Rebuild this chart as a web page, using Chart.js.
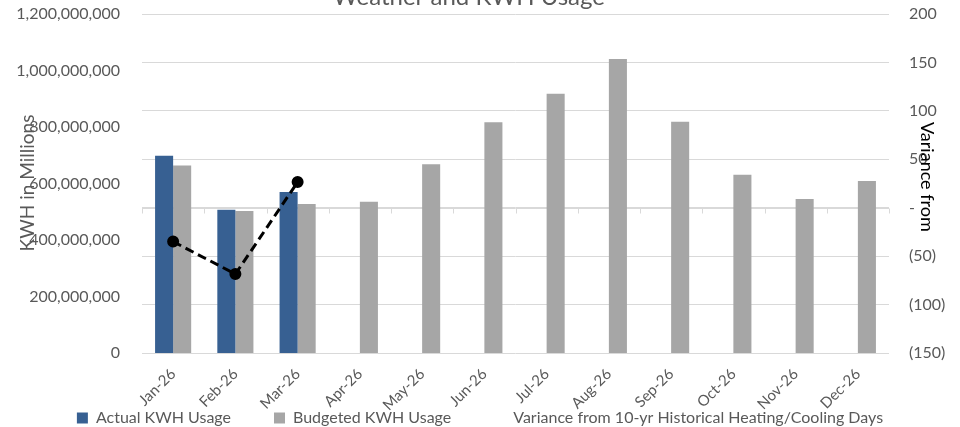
<!DOCTYPE html>
<html><head><meta charset="utf-8">
<script src="https://cdn.jsdelivr.net/npm/chart.js@4.4.1/dist/chart.umd.min.js"></script>
<style>html,body{margin:0;padding:0;background:#fff}#wrap{width:960px;height:427px;position:relative}</style>
</head><body><div id="wrap"><canvas id="c"></canvas></div>
<script>
const months = ['Jan-26','Feb-26','Mar-26','Apr-26','May-26','Jun-26','Jul-26','Aug-26','Sep-26','Oct-26','Nov-26','Dec-26'];
const actualKwh = [698e6, 507e6, 570e6, null, null, null, null, null, null, null, null, null];
const budgetKwh = [664e6, 503e6, 527e6, 535e6, 668e6, 817e6, 918e6, 1041e6, 819e6, 631e6, 545e6, 609e6];
const varianceDays = [-35, -68.5, 26.5, null, null, null, null, null, null, null, null, null];
const kwhAxis = {min: 0, max: 1200000000, step: 200000000};
const varAxis = {min: -150, max: 200, step: 50};
const chartTitle = 'Weather and KWH Usage';
const leftTitle = 'KWH in Millions';
const rightTitle = 'Variance from';
const seriesNames = ['Actual KWH Usage', 'Budgeted KWH Usage', 'Variance from 10-yr Historical Heating/Cooling Days'];

const FONT = 'Lato';
const GREY = '#595959';
const GRID = '#d9d9d9';
const XFONT = 15;
const XLINE = XFONT * 1.2;
const XSHIFT = XLINE * Math.SQRT1_2;

const textPlugin = {
  id: 'texts',
  afterDraw(chart) {
    const ctx = chart.ctx;
    ctx.save();
    ctx.fillStyle = GREY;
    ctx.font = '24px ' + FONT;
    ctx.textAlign = 'center';
    ctx.textBaseline = 'alphabetic';
    ctx.fillText(chartTitle, 469, 5);
    ctx.restore();
    ctx.save();
    ctx.fillStyle = GREY;
    ctx.font = '19px ' + FONT;
    ctx.textAlign = 'center';
    ctx.textBaseline = 'middle';
    ctx.translate(28, 183);
    ctx.rotate(-Math.PI / 2);
    ctx.fillText(leftTitle, 0, 0);
    ctx.restore();
    ctx.save();
    ctx.fillStyle = '#000';
    ctx.font = '18px ' + FONT;
    ctx.textAlign = 'left';
    ctx.textBaseline = 'middle';
    ctx.translate(927, 122);
    ctx.rotate(Math.PI / 2);
    ctx.fillText(rightTitle, 0, 0);
    ctx.restore();
  }
};

const zeroAxisPlugin = {
  id: 'zeroAxis',
  beforeDatasetsDraw(chart) {
    const {ctx} = chart;
    const x = chart.scales.x, y1 = chart.scales.y1;
    const yy = Math.round(y1.getPixelForValue(0)) + 0.5;
    const n = months.length;
    const w = (x.right - x.left) / n;
    ctx.save();
    ctx.strokeStyle = GRID;
    ctx.lineWidth = 1;
    ctx.beginPath();
    ctx.moveTo(x.left, yy);
    ctx.lineTo(x.right, yy);
    for (let i = 0; i <= n; i++) {
      const px = Math.round(x.getPixelForValue(Math.min(i, n - 1)) + (i === n ? w / 2 : -w / 2)) + 0.5;
      ctx.moveTo(px, yy);
      ctx.lineTo(px, yy + 5);
    }
    ctx.stroke();
    ctx.restore();
  }
};

new Chart(document.getElementById('c'), {
  type: 'bar',
  data: {
    labels: months,
    datasets: [
      {label: seriesNames[0], data: actualKwh, backgroundColor: '#376092', yAxisID: 'y', order: 2,
       categoryPercentage: 0.58, barPercentage: 1.0},
      {label: seriesNames[1], data: budgetKwh, backgroundColor: '#a6a6a6', yAxisID: 'y', order: 2,
       categoryPercentage: 0.58, barPercentage: 1.0},
      {type: 'line', label: seriesNames[2], data: varianceDays, yAxisID: 'y1', order: 0,
       borderColor: '#000', backgroundColor: '#000', borderWidth: 3, borderDash: [9, 5],
       pointRadius: 4.5, pointBackgroundColor: '#000', pointBorderColor: '#000', tension: 0, spanGaps: false}
    ]
  },
  options: {
    responsive: true,
    maintainAspectRatio: false,
    animation: false,
    layout: {autoPadding: false, padding: {top: 14, left: 0, right: 0, bottom: -9}},
    plugins: {
      title: {display: false},
      tooltip: {enabled: false},
      legend: {
        position: 'bottom',
        labels: {
          color: GREY,
          font: {family: FONT, size: 16},
          boxWidth: 11, boxHeight: 11,
          padding: 43,
          sort: (a, b) => a.datasetIndex - b.datasetIndex,
          generateLabels(chart) {
            const items = Chart.defaults.plugins.legend.labels.generateLabels(chart);
            items.forEach(it => {
              if (it.datasetIndex === 2) {
                it.fillStyle = 'rgba(0,0,0,0)';
                it.strokeStyle = 'rgba(0,0,0,0)';
                it.lineWidth = 0;
                it.lineDash = [];
              } else {
                it.lineWidth = 0;
              }
            });
            return items;
          }
        }
      }
    },
    scales: {
      x: {
        type: 'category',
        position: 'bottom',
        grid: {display: false, drawTicks: false},
        border: {display: false},
        ticks: {color: GREY, font: {family: FONT, size: XFONT}, maxRotation: 45, minRotation: 45,
                mirror: true, padding: -(12 + XSHIFT), labelOffset: XSHIFT, autoSkip: false},
        afterFit(s) { s.height = 14; }
      },
      y: {
        position: 'left',
        min: kwhAxis.min, max: kwhAxis.max,
        grid: {display: false, drawTicks: false},
        border: {display: false},
        ticks: {
          stepSize: kwhAxis.step, color: GREY, font: {family: FONT, size: 16}, padding: 22,
          callback: v => v === 0 ? '0' : v.toLocaleString('en-US')
        },
        afterFit(s) { s.width = 142; s.paddingTop = 0; s.paddingBottom = 0; }
      },
      y1: {
        position: 'right',
        min: varAxis.min, max: varAxis.max,
        grid: {display: true, color: GRID, lineWidth: 1, drawTicks: false},
        border: {display: false},
        ticks: {
          stepSize: varAxis.step, color: GREY, font: {family: FONT, size: 16}, padding: 20,
          callback: v => v === 0 ? '-' : (v < 0 ? '(' + Math.abs(v) + ')' : String(v))
        },
        afterFit(s) { s.width = 71; s.paddingTop = 0; s.paddingBottom = 0; }
      }
    }
  },
  plugins: [textPlugin, zeroAxisPlugin]
});
</script>
</body></html>
